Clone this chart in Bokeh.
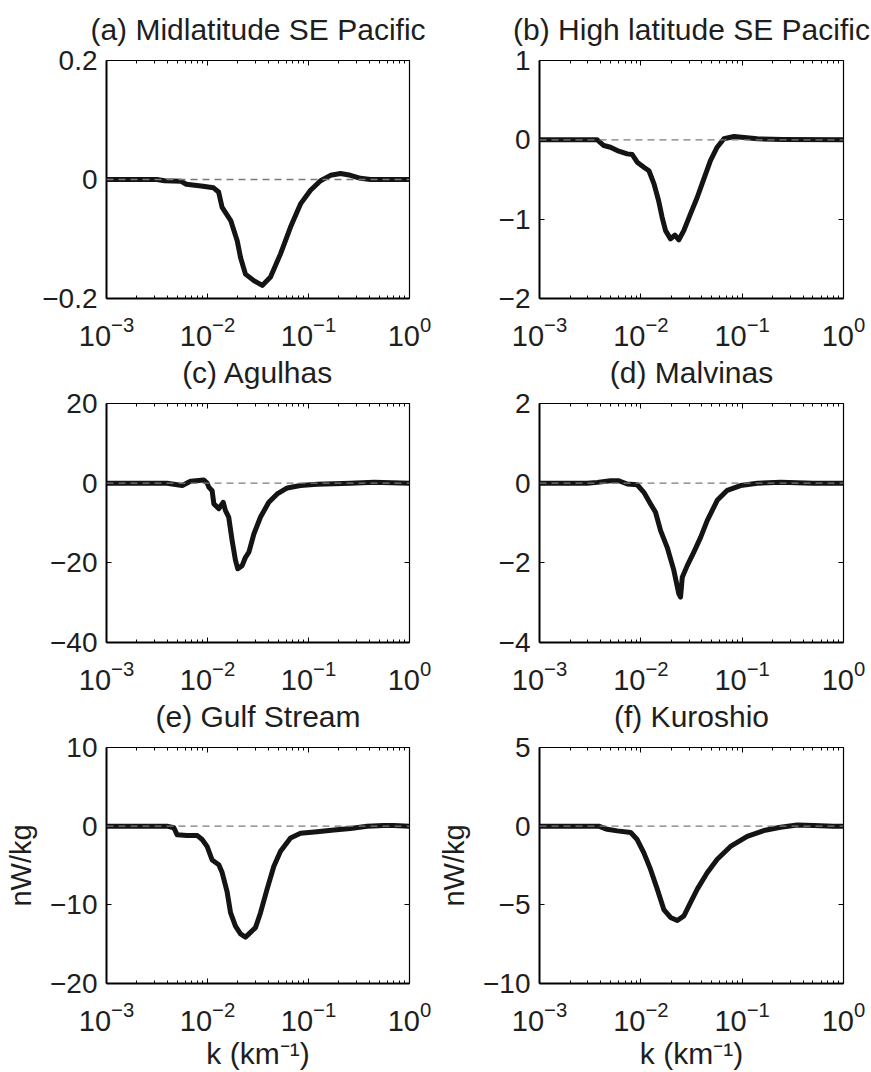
import numpy as np
from bokeh.plotting import figure
from bokeh.layouts import gridplot
from bokeh.models import (FixedTicker, LogAxis, LinearAxis, Span, CustomJSTickFormatter,
                          LogTickFormatter)
from bokeh.embed import file_html
from bokeh.resources import INLINE

# ---------------- data ----------------
titles = ["(a) Midlatitude SE Pacific", "(b) High latitude SE Pacific",
          "(c) Agulhas", "(d) Malvinas", "(e) Gulf Stream", "(f) Kuroshio"]

y_ranges = [(-0.2, 0.2), (-2, 1), (-40, 20), (-4, 2), (-20, 10), (-10, 5)]
y_ticks = [[-0.2, 0, 0.2], [-2, -1, 0, 1], [-40, -20, 0, 20],
           [-4, -2, 0, 2], [-20, -10, 0, 10], [-10, -5, 0, 5]]

x_ticks = [1e-3, 1e-2, 1e-1, 1.0]

a_log10k = [-3.0, -2.5, -2.426, -2.26, -2.21, -2.063, -1.94, -1.89, -1.855, -1.77, -1.706, -1.673,
            -1.624, -1.541, -1.458, -1.376, -1.277, -1.178, -1.079, -0.98, -0.881, -0.782, -0.683,
            -0.584, -0.485, -0.386, 0.0]
a_val = [0, 0, -0.002, -0.003, -0.008, -0.011, -0.014, -0.021, -0.047, -0.069, -0.103, -0.131,
         -0.159, -0.170, -0.178, -0.164, -0.125, -0.080, -0.041, -0.018, -0.002, 0.007, 0.010,
         0.007, 0.002, 0.0, 0.0]

b_log10k = [-3.0, -2.43, -2.365, -2.30, -2.233, -2.134, -2.085, -2.036, -1.97, -1.92, -1.87, -1.825,
            -1.79, -1.756, -1.707, -1.664, -1.625, -1.576, -1.51, -1.443, -1.378, -1.313, -1.247,
            -1.18, -1.08, -0.98, -0.85, -0.6, 0.0]
b_val = [0, 0, -0.072, -0.093, -0.135, -0.177, -0.185, -0.282, -0.345, -0.39, -0.555, -0.765,
         -0.976, -1.144, -1.248, -1.20, -1.26, -1.144, -0.933, -0.724, -0.492, -0.261, -0.093,
         0.013, 0.042, 0.03, 0.013, 0.005, 0.0]

c_log10k = [-3.0, -2.40, -2.25, -2.168, -2.036, -2.003, -1.987, -1.954, -1.937, -1.888, -1.845,
            -1.822, -1.79, -1.756, -1.723, -1.70, -1.657, -1.624, -1.59, -1.54, -1.475, -1.393,
            -1.31, -1.21, -1.08, -0.915, -0.584, -0.35, 0.0]
c_val = [0, 0, -0.6, 0.5, 0.8, 0.0, -1.0, -1.9, -5.2, -6.4, -4.8, -6.9, -8.5, -14.4, -19.4, -21.5,
         -20.7, -18.6, -17.3, -12.7, -8.5, -4.8, -2.7, -1.2, -0.6, -0.3, 0.0, 0.2, 0.0]

d_log10k = [-3.0, -2.53, -2.43, -2.30, -2.217, -2.134, -2.036, -1.97, -1.904, -1.855, -1.805, -1.74,
            -1.674, -1.625, -1.608, -1.591, -1.542, -1.477, -1.41, -1.345, -1.246, -1.147, -1.016,
            -0.851, -0.62, -0.3, 0.0]
d_val = [0, 0, 0.02, 0.06, 0.06, -0.02, -0.04, -0.23, -0.52, -0.73, -1.19, -1.61, -2.19, -2.78,
         -2.86, -2.36, -2.07, -1.73, -1.36, -0.94, -0.43, -0.18, -0.06, 0.0, 0.02, 0.0, 0.0]

e_log10k = [-3.0, -2.40, -2.333, -2.30, -2.204, -2.10, -2.053, -2.003, -1.954, -1.888, -1.855,
            -1.805, -1.772, -1.723, -1.673, -1.624, -1.574, -1.525, -1.475, -1.41, -1.343, -1.277,
            -1.178, -1.079, -0.914, -0.749, -0.584, -0.419, -0.254, -0.155, 0.0]
e_val = [0, 0, -0.2, -1.1, -1.2, -1.2, -1.7, -2.6, -4.3, -4.9, -5.9, -8.4, -11.0, -12.7, -13.7,
         -14.1, -13.5, -12.9, -11.0, -8.0, -5.1, -3.2, -1.5, -0.9, -0.7, -0.5, -0.3, 0.0, 0.1,
         0.1, 0.0]

f_log10k = [-3.0, -2.415, -2.332, -2.233, -2.10, -2.036, -1.97, -1.904, -1.838, -1.773, -1.707,
            -1.64, -1.575, -1.509, -1.443, -1.345, -1.246, -1.115, -0.95, -0.786, -0.621, -0.456,
            -0.292, -0.1, 0.0]
f_val = [0, 0, -0.2, -0.3, -0.4, -0.85, -1.7, -2.75, -4.0, -5.3, -5.8, -6.0, -5.7, -4.85, -4.0,
         -2.96, -2.1, -1.29, -0.65, -0.28, -0.07, 0.08, 0.04, 0.0, 0.0]

series_k = [a_log10k, b_log10k, c_log10k, d_log10k, e_log10k, f_log10k]
series_v = [a_val, b_val, c_val, d_val, e_val, f_val]

y_label = "nW/kg"
x_label = "k (km\u207b\u00b9)"

# ---------------- layout / style ----------------
FONT = "Liberation Sans"
TXT = "#1e1e1e"
COL_W = [435, 436]
ROW_H = [350, 344, 378]
ML = [106, 104]
MR = [26, 28]
MT = [60, 53, 53]
MB = [52, 52, 87]

x_minor = [d * m for d in x_ticks[:-1] for m in range(2, 10)]

minus_fmt = CustomJSTickFormatter(code="return tick < 0 ? '\u2212' + String(Math.abs(tick)) : String(tick);")


def blank():
    return CustomJSTickFormatter(code="return '';")


panels = []
for i in range(6):
    r, c = divmod(i, 2)
    ymin, ymax = y_ranges[i]
    p = figure(width=COL_W[c], height=ROW_H[r], x_axis_type="log", x_range=(x_ticks[0], x_ticks[-1]),
               y_range=(ymin, ymax), output_backend="svg", toolbar_location=None,
               min_border_left=ML[c], min_border_right=MR[c], min_border_top=MT[r],
               min_border_bottom=MB[r], background_fill_color="white", border_fill_color="white")
    p.grid.visible = False
    p.outline_line_color = None

    xt = FixedTicker(ticks=x_ticks, minor_ticks=x_minor)
    yt = FixedTicker(ticks=y_ticks[i], minor_ticks=[])

    xa = p.xaxis[0]
    xa.ticker = xt
    xa.formatter = LogTickFormatter()
    xa.major_label_text_font = FONT
    xa.major_label_text_font_size = "29px"
    xa.major_label_text_color = TXT
    xa.major_label_standoff = 17

    ya = p.yaxis[0]
    ya.ticker = yt
    ya.formatter = minus_fmt
    ya.major_label_text_font = FONT
    ya.major_label_text_font_size = "28px"
    ya.major_label_text_color = TXT
    ya.major_label_standoff = 9

    for ax in (xa, ya):
        ax.axis_line_width = 2
        ax.axis_line_color = "black"
        ax.major_tick_in = 5
        ax.major_tick_out = 0
        ax.minor_tick_in = 3
        ax.minor_tick_out = 0
        ax.major_tick_line_color = "black"
        ax.minor_tick_line_color = "black"

    # mirrored top axis carries the panel title as its label
    top = LogAxis(ticker=xt, formatter=blank(), major_label_text_font_size="1px",
                  major_label_standoff=0, axis_line_width=1.2, major_tick_in=5, major_tick_out=0,
                  minor_tick_in=3, minor_tick_out=0,
                  axis_label=titles[i], axis_label_text_font=FONT,
                  axis_label_text_font_size="30px", axis_label_text_font_style="normal",
                  axis_label_text_color=TXT, axis_label_standoff=15)
    right = LinearAxis(ticker=yt, formatter=blank(), major_label_text_font_size="1px",
                       major_label_standoff=0, axis_line_width=1.2, major_tick_in=5,
                       major_tick_out=0, minor_tick_in=0, minor_tick_out=0)
    p.add_layout(top, "above")
    p.add_layout(right, "right")

    if r == 2:
        ya.axis_label = y_label
        ya.axis_label_text_font = FONT
        ya.axis_label_text_font_size = "29px"
        ya.axis_label_text_font_style = "normal"
        ya.axis_label_text_color = TXT
        ya.axis_label_standoff = 10
        xa.axis_label = x_label
        xa.axis_label_text_font = FONT
        xa.axis_label_text_font_size = "30px"
        xa.axis_label_text_font_style = "normal"
        xa.axis_label_text_color = TXT
        xa.axis_label_standoff = 3

    p.add_layout(Span(location=0, dimension="width", line_color="#7a7a7a", line_width=1.3,
                      line_dash="7 5"))
    kk = [10.0 ** v for v in series_k[i]]
    p.line(kk, series_v[i], line_color="#141414", line_width=5, line_join="round")
    panels.append(p)

grid = gridplot([[panels[0], panels[1]], [panels[2], panels[3]], [panels[4], panels[5]]],
                toolbar_location=None)

open("out.html", "w").write(file_html(grid, INLINE))
